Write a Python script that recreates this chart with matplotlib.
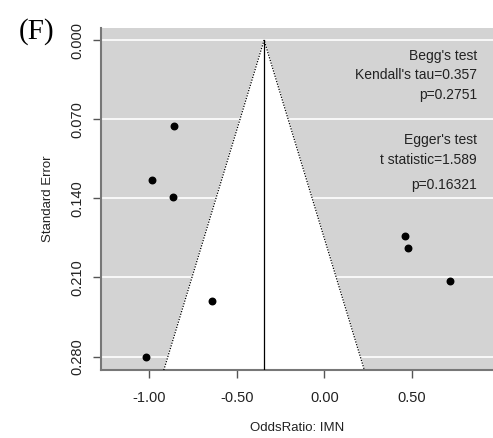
import numpy as np
import matplotlib
matplotlib.use("Agg")
import matplotlib.pyplot as plt

plt.rcParams['font.family'] = ['Liberation Sans', 'DejaVu Sans']

# study estimates (log odds ratio) and their standard errors
log_or = [-0.857, -0.985, -0.861, -0.639, -1.015, 0.461, 0.478, 0.716]
std_err = [0.076, 0.124, 0.139, 0.231, 0.280, 0.173, 0.184, 0.213]
pooled = -0.344

se_ticks = [0.000, 0.070, 0.140, 0.210, 0.280]
or_ticks = [-1.00, -0.50, 0.00, 0.50]

begg_lines = ["Begg's test", "Kendall's tau=0.357", "p=0.2751"]
egger_lines = ["Egger's test", "t statistic=1.589", "p=0.16321"]

fig = plt.figure(figsize=(4.93, 4.38), dpi=100)
ax = fig.add_axes([0.205, 0.155, 0.795, 0.781])

xlim = (-1.274, 0.962)
ylim = (0.292, -0.0106)
ax.set_xlim(*xlim)
ax.set_ylim(*ylim)
ax.set_facecolor('#d3d3d3')

for s in se_ticks:
    ax.axhline(s, color='white', lw=1.2, zorder=1)

# pseudo 95% confidence funnel
se_max = ylim[0]
fx = [pooled - 1.96 * se_max, pooled, pooled + 1.96 * se_max]
fy = [se_max, 0, se_max]
ax.fill(fx, fy, color='white', zorder=2)
ax.plot(fx, fy, color='black', ls=(0, (1, 1.2)), lw=0.9, zorder=3)
ax.plot([pooled, pooled], [0, se_max], color='black', lw=0.9, zorder=3)

ax.scatter(log_or, std_err, s=22, color='black', zorder=4)

ax.set_xticks(or_ticks)
ax.set_xticklabels([f"{v:.2f}" for v in or_ticks])
ax.set_yticks(se_ticks)
ax.set_yticklabels([f"{v:.3f}" for v in se_ticks], rotation=90, va='center')
ax.tick_params(axis='both', colors='#555555', labelcolor='#222222',
               labelsize=10.5, length=6, width=1)
ax.tick_params(axis='y', pad=6)
ax.tick_params(axis='x', pad=9)

for side in ['top', 'right']:
    ax.spines[side].set_visible(False)
for side in ['left', 'bottom']:
    ax.spines[side].set_color('#777777')
    ax.spines[side].set_linewidth(1.5)

ax.set_xlabel("OddsRatio: IMN", fontsize=9.5, color='#222222', labelpad=12)
ax.set_ylabel("Standard Error", fontsize=9.5, color='#222222', labelpad=12)

for txt, yp in zip(begg_lines, [56, 75, 95]):
    fig.text(477 / 493, 1 - yp / 438, txt, ha='right', va='center',
             fontsize=10, color='#222222')
for txt, yp in zip(egger_lines, [140, 160, 185]):
    fig.text(477 / 493, 1 - yp / 438, txt, ha='right', va='center',
             fontsize=10, color='#222222')

fig.text(19 / 493, 1 - 32 / 438, "(F)", fontsize=21, ha='left', va='center',
         family='Liberation Serif')

fig.savefig("out.png", dpi=100)
